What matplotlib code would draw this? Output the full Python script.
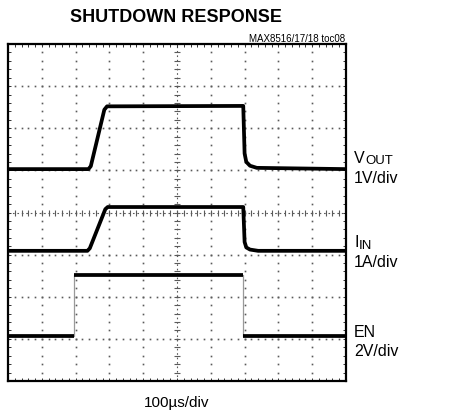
import numpy as np
import matplotlib
matplotlib.use("Agg")
import matplotlib.pyplot as plt

plt.rcParams['font.family'] = ['Liberation Sans', 'DejaVu Sans']

# ---- data (scope divisions: x 0..10, y 0..8) ----
vout_t = [0.0, 2.38, 2.45, 2.85, 2.93, 6.96, 7.00, 7.05, 7.16, 7.36, 10.0]
vout_v = [5.03, 5.03, 5.10, 6.44, 6.52, 6.53, 5.40, 5.20, 5.11, 5.06, 5.03]

iin_t = [0.0, 2.35, 2.42, 2.88, 2.95, 6.96, 7.00, 7.05, 7.16, 7.40, 10.0]
iin_v = [3.09, 3.09, 3.15, 4.08, 4.13, 4.13, 3.30, 3.17, 3.12, 3.09, 3.09]

en_t = [0.0, 1.95, 1.95, 6.96, 6.96, 10.0]
en_v = [1.06, 1.06, 2.52, 2.52, 1.07, 1.07]

title = "SHUTDOWN RESPONSE"
part_no = "MAX8516/17/18 toc08"
x_label = "100\u00b5s/div"
ch_labels = [("V", "OUT", "1V/div"), ("I", "IN", "1A/div"), ("EN", "", "2V/div")]
ch_label_y = [0.607, 0.403, 0.187]

W, H = 454, 414
fig = plt.figure(figsize=(W / 100, H / 100), dpi=100)
ax = fig.add_axes([8 / W, 1 - 382 / H, 338 / W, 337 / H])
ax.set_xlim(0, 10)
ax.set_ylim(0, 8)

# graticule dots
sub_x = np.arange(0, 10.001, 0.2)
sub_y = np.arange(0, 8.001, 0.2)
gcol = '#5a5a5a'
for gx in range(1, 10):
    if gx == 5:
        continue
    ax.plot([gx] * len(sub_y), sub_y, ls='none', marker='s', ms=1.2, mec='none', mfc=gcol, zorder=1)
for gy in range(1, 8):
    if gy == 4:
        continue
    ax.plot(sub_x, [gy] * len(sub_x), ls='none', marker='s', ms=1.2, mec='none', mfc=gcol, zorder=1)
# center lines
ax.plot([5, 5], [0, 8], color=gcol, lw=0.8, ls=(0, (1.5, 2.5)), zorder=1)
ax.plot([0, 10], [4, 4], color=gcol, lw=0.8, ls=(0, (1.5, 2.5)), zorder=1)
ax.plot([5] * len(sub_y), sub_y, ls='none', marker='_', ms=4, mew=0.8, color=gcol, zorder=1)
ax.plot(sub_x, [4] * len(sub_x), ls='none', marker='|', ms=4, mew=0.8, color=gcol, zorder=1)

# traces
lw = 2.7
ax.plot(vout_t, vout_v, color='black', lw=lw, solid_joinstyle='round', zorder=3)
ax.plot(iin_t, iin_v, color='black', lw=lw, solid_joinstyle='round', zorder=3)
ax.plot(en_t, en_v, color='#999999', lw=0.9, zorder=2)
for i in range(len(en_t) - 1):
    if en_v[i] == en_v[i + 1]:
        ax.plot(en_t[i:i + 2], en_v[i:i + 2], color='black', lw=lw,
                solid_capstyle='butt', zorder=3)

# frame
for s in ax.spines.values():
    s.set_linewidth(1.6)
ax.set_xticks(np.arange(0, 10.001, 0.2))
ax.set_yticks(np.arange(0, 8.001, 0.2))
ax.tick_params(direction='in', length=2.5, width=0.7, top=True, right=True,
               labelbottom=False, labelleft=False, color='#333333')

# texts
fig.text(176 / W, 1 - 18 / H, title, ha='center', va='center',
         fontsize=13, fontweight='bold')
fig.text(345 / W, 1 - 39 / H, part_no, ha='right', va='center', fontsize=7)
fig.text(177 / W, 1 - 403 / H, x_label, ha='center', va='center', fontsize=11)

for (main, sub, scale), yy in zip(ch_labels, ch_label_y):
    t = fig.text(354 / W, yy, main, ha='left', va='baseline', fontsize=11.5)
    if sub:
        ax.annotate(sub, xy=(1, 0), xycoords=t, xytext=(0.2, -1.2),
                    textcoords='offset points', ha='left', va='bottom', fontsize=9.5)
    fig.text(354 / W, yy - 0.048, scale, ha='left', va='baseline', fontsize=11.5)

fig.savefig("out.png", dpi=100)
